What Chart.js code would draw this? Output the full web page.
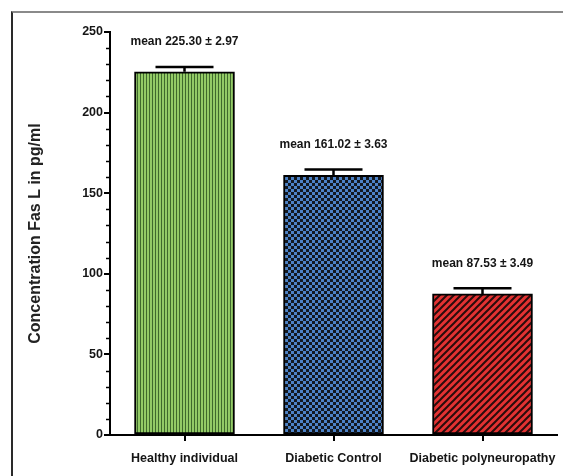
<!DOCTYPE html>
<html>
<head>
<meta charset="utf-8">
<script src="https://cdn.jsdelivr.net/npm/chart.js@4/dist/chart.umd.min.js"></script>
<style>
    html, body { margin: 0; padding: 0; background: #fff; }
    #wrap { position: relative; width: 563px; height: 476px; overflow: hidden; }
    #frame {
        position: absolute; left: 11px; top: 11px; width: 700px; height: 700px;
        border-left: 2px solid #2a2a2a; border-top: 2px solid #8a8a8a;
    }
    #c { position: absolute; left: 0; top: 0; }
</style>
</head>
<body>
<div id="wrap">
    <div id="frame"></div>
    <canvas id="c" width="563" height="476"></canvas>
</div>
<script>
const categories = ["Healthy individual", "Diabetic Control", "Diabetic polyneuropathy"];
const means = [225.30, 161.02, 87.53];
const sems = [2.97, 3.63, 3.49];
const yTicks = [0, 50, 100, 150, 200, 250];

const FONT = "'Liberation Sans', Arial, sans-serif";

// fill patterns for the three bars
function makePattern(kind) {
    const t = document.createElement("canvas");
    const g = t.getContext("2d");
    if (kind === "stripes") {
        t.width = 3; t.height = 3;
        g.fillStyle = "#93cb66"; g.fillRect(0, 0, 3, 3);
        g.fillStyle = "#3f6a2c"; g.fillRect(2, 0, 1, 3);
    } else if (kind === "checker") {
        t.width = 6; t.height = 6;
        g.fillStyle = "#121820"; g.fillRect(0, 0, 6, 6);
        g.fillStyle = "#4d82c6";
        g.fillRect(0, 0, 3, 3); g.fillRect(3, 3, 3, 3);
    } else {
        const s = 7;
        t.width = s; t.height = s;
        g.fillStyle = "#e33232"; g.fillRect(0, 0, s, s);
        g.strokeStyle = "#2a0c0c"; g.lineWidth = 2;
        g.beginPath();
        g.moveTo(-1, s + 1); g.lineTo(s + 1, -1);
        g.moveTo(-1, 1); g.lineTo(1, -1);
        g.moveTo(s - 1, s + 1); g.lineTo(s + 1, s - 1);
        g.stroke();
    }
    return g.createPattern(t, "repeat");
}

// error bars (upper only), mean labels and minor y ticks
const extras = {
    id: "extras",
    afterDatasetsDraw(chart) {
        const ctx = chart.ctx;
        const y = chart.scales.y;
        const meta = chart.getDatasetMeta(0);
        ctx.save();
        ctx.strokeStyle = "#000";
        ctx.lineWidth = 2.5;
        meta.data.forEach((bar, i) => {
            const yBar = y.getPixelForValue(means[i]);
            const yTop = y.getPixelForValue(means[i] + sems[i]);
            ctx.beginPath();
            ctx.moveTo(bar.x, yBar);
            ctx.lineTo(bar.x, yTop);
            ctx.moveTo(bar.x - 29, yTop);
            ctx.lineTo(bar.x + 29, yTop);
            ctx.stroke();
            ctx.fillStyle = "#151515";
            ctx.font = "bold 12px " + FONT;
            ctx.textAlign = "center";
            ctx.textBaseline = "middle";
            ctx.fillText("mean " + means[i].toFixed(2) + " \u00b1 " + sems[i].toFixed(2), bar.x, yTop - 25);
        });
        // minor ticks every 10
        ctx.lineWidth = 1.5;
        ctx.beginPath();
        for (let v = 10; v < 250; v += 10) {
            if (v % 50 === 0) continue;
            const py = Math.round(y.getPixelForValue(v)) + 0.5;
            ctx.moveTo(y.right - 4, py);
            ctx.lineTo(y.right, py);
        }
        ctx.stroke();
        ctx.restore();
    }
};

new Chart(document.getElementById("c"), {
    type: "bar",
    data: {
        labels: categories,
        datasets: [{
            data: means,
            backgroundColor: [makePattern("stripes"), makePattern("checker"), makePattern("hatch")],
            borderColor: "#000",
            borderWidth: 2,
            borderSkipped: false,
            barThickness: 100,
        }],
    },
    options: {
        responsive: false,
        animation: false,
        layout: { padding: { left: 20, top: 32, right: 6, bottom: 0 } },
        plugins: { legend: { display: false }, tooltip: { enabled: false } },
        scales: {
            x: {
                offset: true,
                grid: { drawOnChartArea: false, offset: false, tickLength: 6, color: "#000", lineWidth: 2 },
                border: { display: true, color: "#000", width: 2 },
                ticks: { color: "#151515", font: { family: FONT, size: 12.5, weight: "bold" }, padding: 10, maxRotation: 0 },
                afterFit(s) { s.height = 41; s.paddingLeft = 0; s.paddingRight = 0; },
            },
            y: {
                min: 0,
                max: 250,
                afterBuildTicks(s) { s.ticks = yTicks.map((v) => ({ value: v })); },
                grid: { drawOnChartArea: false, tickLength: 6, color: "#000", lineWidth: 2 },
                border: { display: true, color: "#000", width: 2 },
                ticks: { color: "#151515", font: { family: FONT, size: 12.5, weight: "bold" }, padding: 1 },
                title: {
                    display: true,
                    text: "Concentration Fas L in pg/ml",
                    color: "#222",
                    font: { family: FONT, size: 16, weight: "bold" },
                    padding: { top: 6, bottom: 0 },
                },
                afterFit(s) { s.width = 90; },
            },
        },
    },
    plugins: [extras],
});
</script>
</body>
</html>
